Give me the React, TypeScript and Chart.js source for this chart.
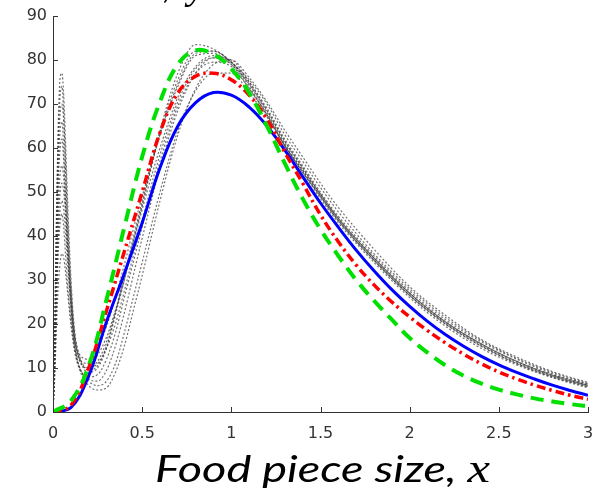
import React, { useEffect, useRef } from "react";
import { Chart, registerables } from "chart.js";

Chart.register(...registerables);

// ---- data ----
const X_MAIN = [0, 0.1, 0.2, 0.3, 0.4, 0.5, 0.6, 0.7, 0.8, 0.9, 1.0, 1.1, 1.2, 1.3, 1.4, 1.5, 1.6, 1.7, 1.8, 1.9, 2.0, 2.1, 2.2, 2.3, 2.4, 2.5, 2.6, 2.7, 2.8, 2.9, 3.0];
const BLUE = [0, 1.0, 8.2, 20.5, 31.5, 43, 55.5, 65, 70.3, 72.6, 72, 69.3, 65, 59.5, 53.5, 47.5, 42, 36.8, 32.1, 27.8, 24, 20.6, 17.6, 15, 12.7, 10.7, 9, 7.5, 6.1, 4.9, 3.8];
const RED = [0, 1.5, 10, 23, 36.5, 50, 63.5, 72.5, 76.3, 77, 75.5, 72, 66.5, 59, 52, 44.8, 38.7, 33.4, 28.9, 25, 21.6, 18.5, 15.7, 13.2, 11, 9.1, 7.5, 6.1, 4.9, 3.8, 2.9];
const GREEN = [0, 2.5, 10.5, 25.5, 42, 58, 70.5, 79, 82.2, 81.3, 78, 72.5, 65, 56.5, 48.5, 41.5, 35.5, 30, 25.3, 21, 16.8, 13.5, 10.6, 8.3, 6.5, 5.1, 4, 3.1, 2.4, 1.8, 1.3];

const X_GRAY = [0, 0.01, 0.02, 0.03, 0.04, 0.05, 0.06, 0.07, 0.08, 0.1, 0.12, 0.15, 0.2, 0.25, 0.3, 0.35, 0.4, 0.45, 0.5, 0.6, 0.7, 0.8, 0.9, 1.0, 1.1, 1.2, 1.3, 1.4, 1.5, 1.6, 1.8, 2.0, 2.2, 2.4, 2.6, 2.8, 3.0];
const GRAY1 = [0, 20, 46, 66, 76, 77, 72, 62, 50, 31, 19, 12.5, 10, 11.5, 16, 23, 31, 39, 47, 63, 74.5, 81.5, 82, 79.5, 75, 68.5, 61.5, 55.5, 49.5, 44, 35, 27, 20.5, 15.5, 11.5, 8.5, 6.2];
const GRAY2 = [0, 15, 36, 52, 60, 62, 57, 48, 38, 24, 15, 10, 8, 8.5, 12, 18, 26, 34, 42, 57, 69.5, 77, 79.5, 78.5, 73.5, 67.5, 60.5, 54.5, 49, 43.5, 34.5, 26.5, 20, 15, 11, 8, 5.8];
const GRAY3 = [0, 12, 30, 43, 50, 52, 50, 45, 38, 26, 17, 12, 11, 13, 17, 23, 30, 38, 46, 60, 71.5, 78.5, 81, 79.5, 74, 67.5, 60.5, 54.5, 48.5, 43, 34, 26, 19.5, 14.5, 10.7, 7.8, 5.5];
const GRAY4 = [0, 10, 25, 37, 43, 45, 42, 36, 30, 21, 15, 10, 7, 6, 7, 11, 18, 26, 34, 50, 64, 73, 77, 77, 72.5, 67, 60.5, 55, 49.5, 44, 35, 27, 20.5, 15.5, 11.5, 8.3, 6];
const GRAY5 = [0, 8, 20, 29, 34, 36, 35, 32, 28, 20, 14, 9.5, 6, 5, 5.5, 9, 15, 23, 31, 48, 63, 73.5, 79, 80, 76, 70.5, 64, 58, 52, 46.5, 37, 28.5, 22, 16.5, 12.5, 9.2, 6.7];
const GRAY6 = [0, 18, 42, 60, 68, 70, 66, 57, 46, 29, 18, 12, 9, 10, 14.5, 22, 30, 38.5, 47, 64, 77, 83.5, 82.5, 79.5, 75.5, 70, 63, 57, 51, 45.5, 36, 28, 21.5, 16.3, 12.2, 9, 6.5];
const GRAY7 = [0, 14, 33, 47, 54, 56, 53, 47, 40, 27, 18, 13, 12, 14.5, 19.5, 26, 33.5, 41.5, 49, 63, 74, 81, 81.5, 79, 74.5, 68, 61, 55, 49, 43.5, 34.5, 26.5, 20, 15, 11, 8, 5.7];
const GRAY8 = [0, 16, 39, 56, 64, 66, 60, 50, 40, 25, 15.5, 10, 7.5, 7, 9.5, 15, 22.5, 31, 39.5, 55.5, 68.5, 77, 80.5, 80, 75, 69, 62, 56, 50, 44.5, 35.5, 27.5, 21, 16, 12, 8.7, 6.3];
const GRAY9 = [0, 11, 27, 40, 46, 48, 46, 41, 35, 24, 16, 11.5, 10, 11, 14.5, 20, 27.5, 35.5, 43.5, 58.5, 70.5, 78, 80.5, 79, 73.5, 67.5, 60.5, 54.5, 49, 43.5, 34.5, 26.5, 20.2, 15.2, 11.2, 8.2, 6];
const GRAY10 = [0, 19, 44, 63, 72, 74, 68, 56, 44, 27, 17, 12, 9.5, 10.5, 15, 22.5, 31, 39.5, 48, 63.5, 75.5, 82, 82, 79.5, 74.5, 68.5, 61.5, 55.5, 49.5, 44, 35, 27, 20.5, 15.5, 11.5, 8.4, 6.1];
const GRAY_SERIES = [GRAY1, GRAY2, GRAY3, GRAY4, GRAY5, GRAY6, GRAY7, GRAY8, GRAY9, GRAY10];

const X_TICKS = [0, 0.5, 1, 1.5, 2, 2.5, 3];
const Y_TICKS = [0, 10, 20, 30, 40, 50, 60, 70, 80, 90];
const X_LABEL_TEXT = "Food piece size, ";
const X_LABEL_MATH = "x";

const pts = (xs: number[], ys: number[]) => xs.map((x, i) => ({ x, y: ys[i] }));

const decorPlugin = {
  id: "decor",
  afterDraw(chart: any) {
    const { ctx } = chart;
    const xs = chart.scales.x;
    const ys = chart.scales.y;
    const area = chart.chartArea;
    ctx.save();
    ctx.strokeStyle = "#333";
    ctx.lineWidth = 1;
    ctx.beginPath();
    X_TICKS.forEach((v) => {
      const px = Math.round(xs.getPixelForValue(v)) + 0.5;
      ctx.moveTo(px, area.bottom);
      ctx.lineTo(px, area.bottom - 5);
    });
    Y_TICKS.forEach((v) => {
      const py = Math.round(ys.getPixelForValue(v)) + 0.5;
      ctx.moveTo(area.left, py);
      ctx.lineTo(area.left + 5, py);
    });
    ctx.stroke();

    // x-axis label
    ctx.fillStyle = "#000";
    ctx.textBaseline = "alphabetic";
    ctx.textAlign = "left";
    const f1 = "italic 37px Lato";
    const f2 = "italic 40px 'Liberation Serif'";
    ctx.font = f1;
    const w1 = ctx.measureText(X_LABEL_TEXT).width;
    ctx.font = f2;
    const w2 = ctx.measureText(X_LABEL_MATH).width;
    const targetW = 335;
    const sx = targetW / (w1 + w2);
    const x0 = 155;
    ctx.save();
    ctx.translate(x0, 482);
    ctx.scale(sx, 1);
    ctx.font = f1;
    ctx.fillText(X_LABEL_TEXT, 0, 0);
    ctx.font = f2;
    ctx.fillText(X_LABEL_MATH, w1, 0);
    ctx.restore();

    // clipped remains of the label above the plot
    ctx.font = f1;
    ctx.fillText(",", 163, -2);
    ctx.font = f2;
    ctx.fillText("y", 188, -2);
    ctx.restore();
  },
};

export default function App() {
  const ref = useRef<HTMLCanvasElement | null>(null);
  useEffect(() => {
    if (!ref.current) return;
    const grayDs = GRAY_SERIES.map((g, i) => ({
      label: "sample " + (i + 1),
      data: pts(X_GRAY, g),
      borderColor: "rgba(55,55,55,0.7)",
      borderWidth: 1.2,
      borderDash: [2, 2],
      pointRadius: 0,
      cubicInterpolationMode: "monotone" as const,
      order: 10,
    }));
    const chart = new Chart(ref.current, {
      type: "line",
      data: {
        datasets: [
          ...grayDs,
          {
            label: "blue",
            data: pts(X_MAIN, BLUE),
            borderColor: "#0000ff",
            borderWidth: 3,
            pointRadius: 0,
            tension: 0.4,
            order: 3,
          },
          {
            label: "red",
            data: pts(X_MAIN, RED),
            borderColor: "#ff0000",
            borderWidth: 3.5,
            borderDash: [9, 4, 2.5, 4],
            pointRadius: 0,
            tension: 0.4,
            order: 2,
          },
          {
            label: "green",
            data: pts(X_MAIN, GREEN),
            borderColor: "#00e000",
            borderWidth: 4,
            borderDash: [13, 8],
            pointRadius: 0,
            tension: 0.4,
            order: 1,
          },
        ],
      },
      options: {
        animation: false,
        responsive: true,
        maintainAspectRatio: false,
        layout: { padding: { left: 8, right: 7, top: 16, bottom: 0 } },
        plugins: { legend: { display: false }, tooltip: { enabled: false } },
        scales: {
          x: {
            type: "linear",
            min: 0,
            max: 3,
            afterFit: (s: any) => {
              s.height = 80;
              s.paddingLeft = 0;
              s.paddingRight = 0;
            },
            afterBuildTicks: (s: any) => {
              s.ticks = X_TICKS.map((v) => ({ value: v }));
            },
            ticks: {
              font: { family: "'DejaVu Sans'", size: 16 },
              color: "#333",
              padding: 12,
              maxRotation: 0,
              autoSkip: false,
              callback: (v: any) => String(v),
            },
            grid: { display: false, drawTicks: false },
            border: { display: true, color: "#333", width: 1 },
          },
          y: {
            min: 0,
            max: 90,
            afterFit: (s: any) => {
              s.width = 45;
              s.paddingTop = 0;
              s.paddingBottom = 0;
            },
            afterBuildTicks: (s: any) => {
              s.ticks = Y_TICKS.map((v) => ({ value: v }));
            },
            ticks: {
              font: { family: "'DejaVu Sans'", size: 16 },
              color: "#333",
              padding: 6,
              autoSkip: false,
              callback: (v: any) => String(v),
            },
            grid: { display: false, drawTicks: false },
            border: { display: true, color: "#333", width: 1 },
          },
        },
      },
      plugins: [decorPlugin],
    });
    return () => chart.destroy();
  }, []);
  return (
    <div style={{ position: "fixed", left: 0, top: 0, width: 595, height: 492, background: "#fff" }}>
      <canvas ref={ref} />
    </div>
  );
}
